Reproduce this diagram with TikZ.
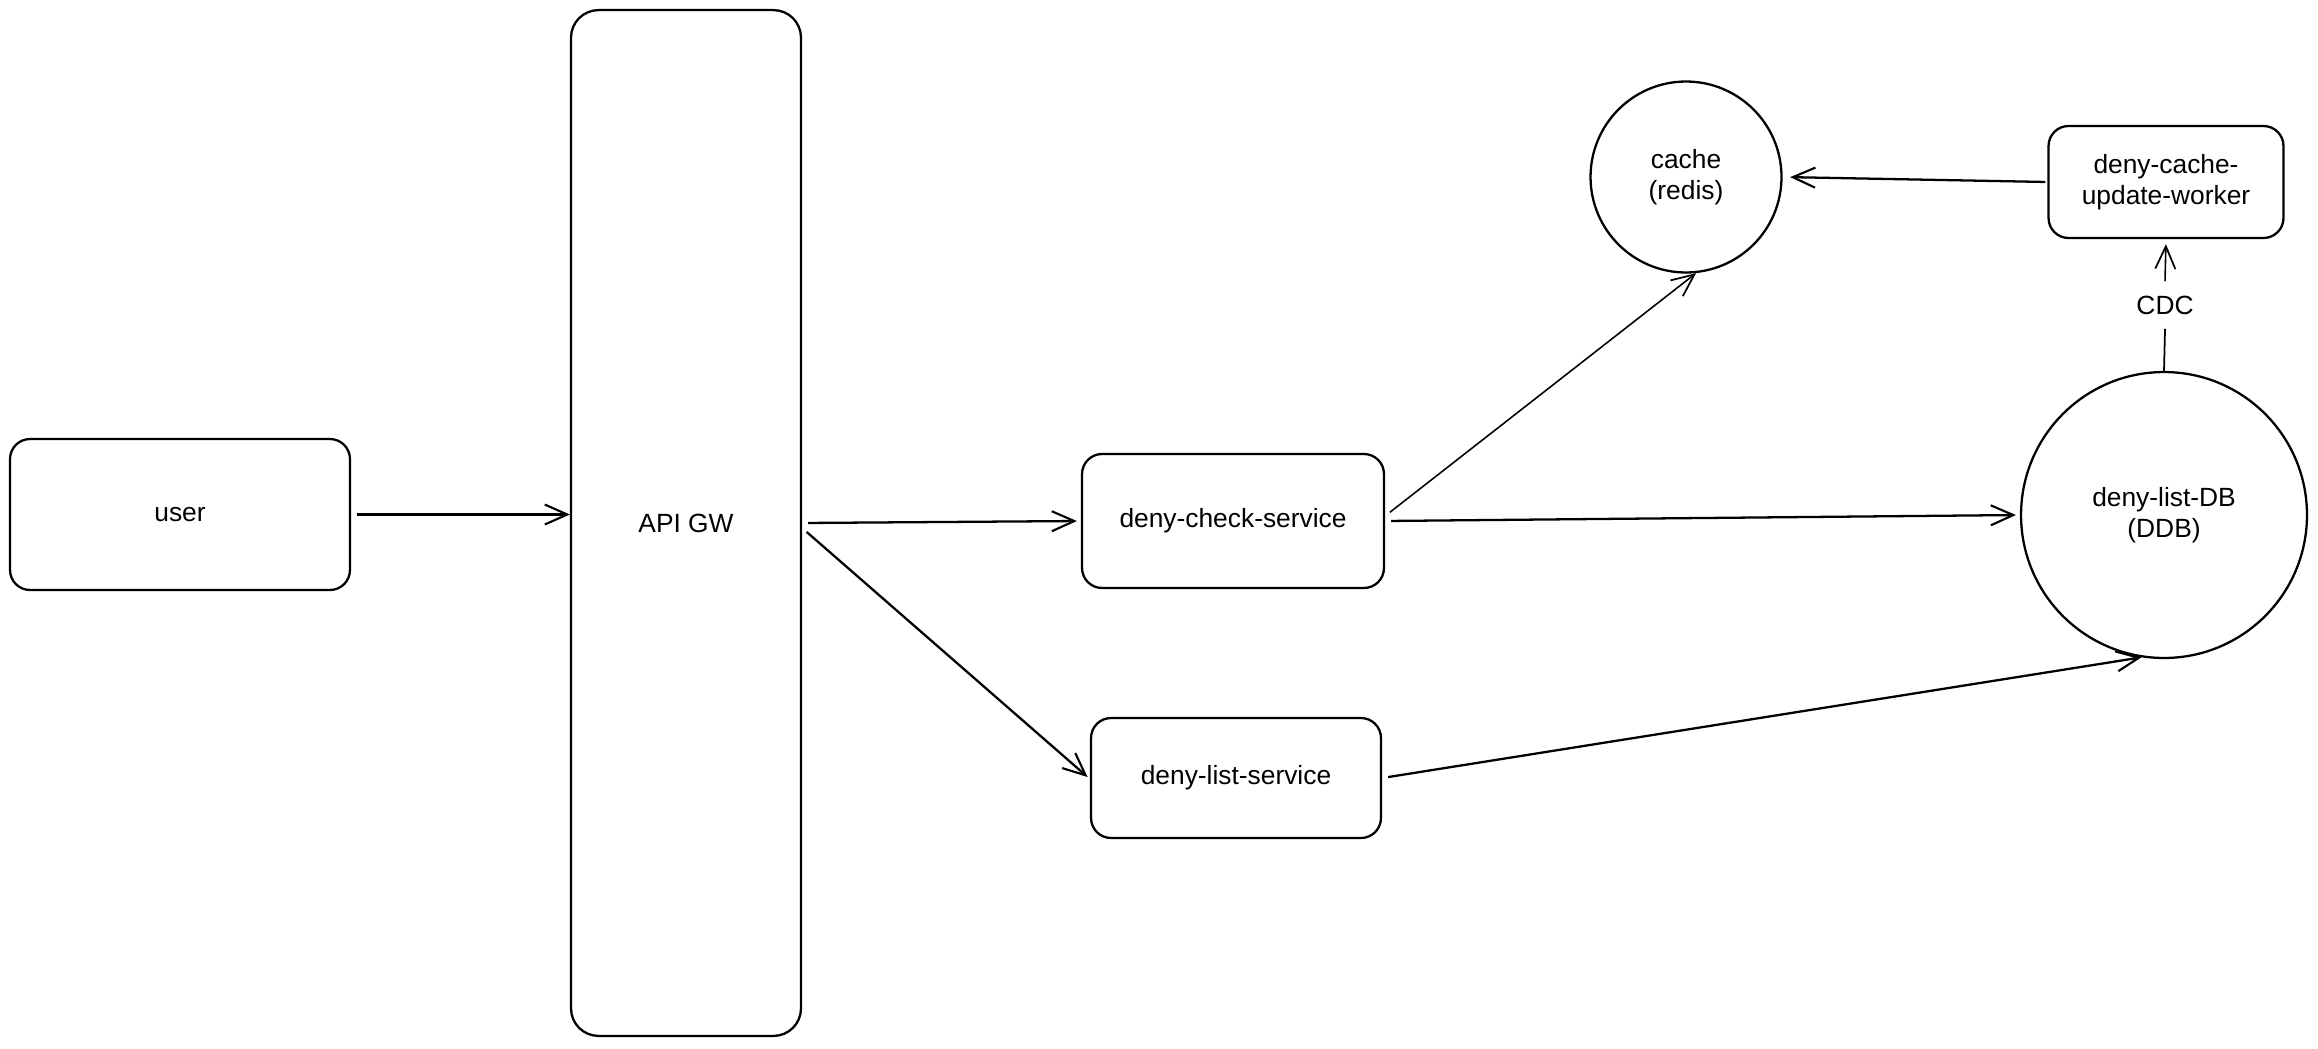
\documentclass[tikz,border=0pt]{standalone}
\usepackage{fontspec}
\setmainfont{Liberation Sans}
\usetikzlibrary{arrows.meta}
\begin{document}
\begin{tikzpicture}[x=0.02cm,y=-0.02cm,
  every node/.style={font=\fontsize{15}{18}\selectfont},
  box/.style={draw, line width=1.3pt, rounded corners=0.4cm, inner sep=0pt, align=center},
  circ/.style={draw, circle, line width=1.3pt, inner sep=0pt, align=center},
  arr/.style={line width=1.3pt, -{Straight Barb[length=0.45cm,width=0.4cm,line width=1.2pt]}},
  thinarr/.style={line width=0.9pt, -{Straight Barb[length=0.45cm,width=0.4cm,line width=1pt]}}]
\useasboundingbox (0,0) rectangle (2318,1048);
\node[box, minimum width=6.8cm, minimum height=3.02cm] (user) at (180,514.5) {user};
\node[box, rounded corners=0.55cm, minimum width=4.6cm, minimum height=20.52cm] (gw) at (686,523) {API GW};
\node[box, minimum width=6.04cm, minimum height=2.68cm] (check) at (1233,521) {deny-check-service};
\node[box, minimum width=5.8cm, minimum height=2.4cm] (list) at (1236,778) {deny-list-service};
\node[circ, minimum size=3.82cm] (cache) at (1686,177) {cache\\(redis)};
\node[box, minimum width=4.7cm, minimum height=2.24cm] (worker) at (2166,182) {deny-cache-\\update-worker};
\node[circ, minimum size=5.72cm] (db) at (2164,515) {deny-list-DB\\(DDB)};
\node[inner sep=0pt, minimum height=0.94cm] (cdc) at (2165,305) {CDC};

\draw[arr, shorten <=0.12cm] (user.east) -- (user.east -| gw.west);
\draw[arr, shorten <=0.12cm, shorten >=0.08cm] (gw.east) -- (check.west);
\draw[arr, shorten <=0.12cm, shorten >=0.06cm] ([yshift=-0.1cm]gw.east) -- ([yshift=-0.02cm]list.west);
\draw[thinarr, shorten <=0.12cm] ([yshift=0.1cm]check.east) -- (cache.-84);
\draw[arr, shorten <=0.12cm, shorten >=0.08cm] (check.east) -- (db.west);
\draw[arr, shorten <=0.12cm] (list.east) -- (db.-99);
\draw[arr, shorten <=0.04cm, shorten >=0.15cm] (worker.west) -- (cache.east);
\draw[line width=1pt] (db.north) -- (cdc.south);
\draw[thinarr, shorten >=0.1cm] (cdc.north) -- (worker.south);
\end{tikzpicture}
\end{document}
